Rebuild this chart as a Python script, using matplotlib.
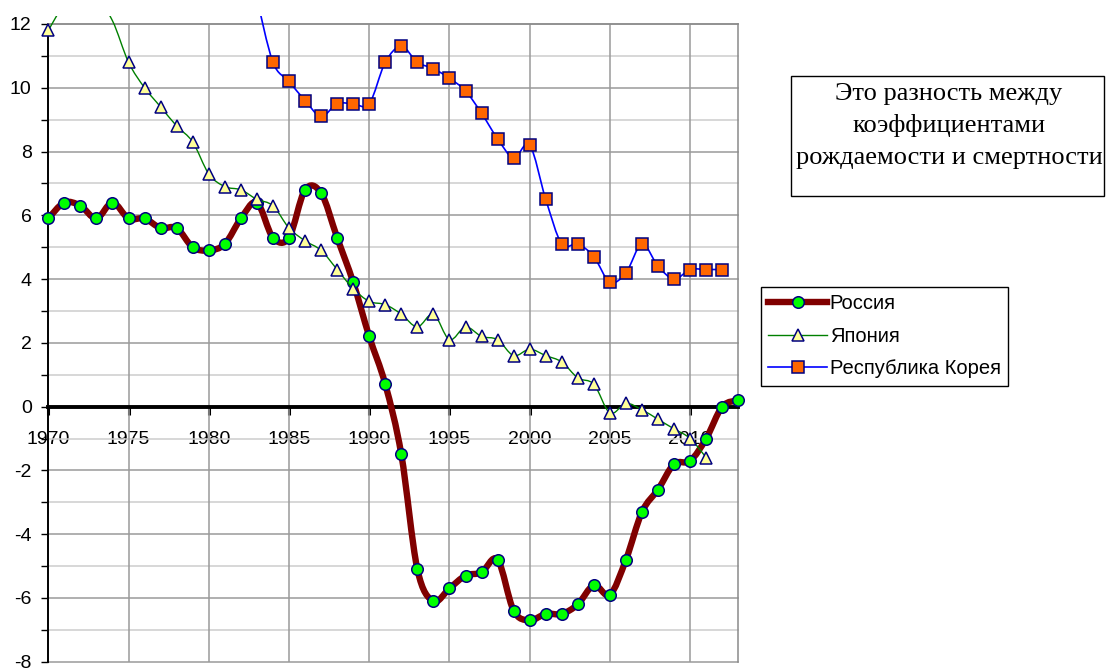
import numpy as np
import matplotlib
matplotlib.use("Agg")
import matplotlib.pyplot as plt
from matplotlib.path import Path
from matplotlib.patches import PathPatch, Rectangle
from matplotlib.lines import Line2D

plt.rcParams["font.family"] = ["Liberation Sans", "DejaVu Sans"]
plt.rcParams["axes.unicode_minus"] = False

# естественный прирост (рождаемость - смертность), на 1000 чел.
years_ru = np.arange(1970, 2014)
russia = np.array([5.9, 6.4, 6.3, 5.9, 6.4, 5.9, 5.9, 5.6, 5.6, 5.0,
                   4.9, 5.1, 5.9, 6.4, 5.3, 5.3, 6.8, 6.7, 5.3, 3.9,
                   2.2, 0.7, -1.5, -5.1, -6.1, -5.7, -5.3, -5.2, -4.8, -6.4,
                   -6.7, -6.5, -6.5, -6.2, -5.6, -5.9, -4.8, -3.3, -2.6, -1.8,
                   -1.7, -1.0, 0.0, 0.2])

years_jp = np.arange(1970, 2012)
japan = np.array([11.8, 12.6, 12.8, 12.8, 12.1, 10.8, 10.0, 9.4, 8.8, 8.3,
                  7.3, 6.9, 6.8, 6.5, 6.3, 5.6, 5.2, 4.9, 4.3, 3.7,
                  3.3, 3.2, 2.9, 2.5, 2.9, 2.1, 2.5, 2.2, 2.1, 1.6,
                  1.8, 1.6, 1.4, 0.9, 0.7, -0.2, 0.1, -0.1, -0.4, -0.7,
                  -1.0, -1.6])

years_kr = np.arange(1983, 2013)
korea = np.array([12.8, 10.8, 10.2, 9.6, 9.1, 9.5, 9.5, 9.5, 10.8, 11.3,
                  10.8, 10.6, 10.3, 9.9, 9.2, 8.4, 7.8, 8.2, 6.5, 5.1,
                  5.1, 4.7, 3.9, 4.2, 5.1, 4.4, 4.0, 4.3, 4.3, 4.3])

labels = ["Россия", "Япония", "Республика Корея"]
note = ["Это разность между", "коэффициентами", "рождаемости и смертности"]

W, H = 1106, 669
fig = plt.figure(figsize=(W / 100, H / 100), dpi=100)
ax = fig.add_axes([48.3 / W, 1 - 661.7 / H, 690 / W, 637.7 / H])

ax.spines["left"].set_color("black")
ax.spines["left"].set_linewidth(1.4)
ax.spines["bottom"].set_position(("data", 0))
ax.spines["bottom"].set_color("black")
ax.spines["bottom"].set_linewidth(2.8)
for s in ["top", "right"]:
    ax.spines[s].set_color("#8a8a8a")
    ax.spines[s].set_linewidth(1.1)

ax.set_xlim(1970, 2013)
ax.set_ylim(-8, 12)
ax.set_axisbelow(True)

ax.set_xticks(np.arange(1970, 2011, 5))
ax.set_yticks(np.arange(-8, 13, 2))
ax.set_yticks(np.arange(-8, 13, 1), minor=True)
ax.tick_params(axis="x", direction="out", length=5.5, width=2.2, pad=12,
               labelsize=14)
ax.tick_params(axis="y", which="both", direction="out", length=5, width=1,
               pad=7, labelsize=14)

# сетка поверх подписей осей, как в Excel
for yv in np.arange(-8, 13, 1):
    c = "#9a9a9a" if yv % 2 == 0 else "#cdcdcd"
    ax.axhline(yv, color=c, lw=1.1, zorder=1, clip_on=False)
for xv in ax.get_xticks()[1:]:
    ax.axvline(xv, color="#9a9a9a", lw=1.1, zorder=1)


def smooth(x, y):
    pts = np.column_stack([x, y])
    n = len(pts)
    verts = [pts[0]]
    codes = [Path.MOVETO]
    for i in range(n - 1):
        p0 = pts[i - 1] if i > 0 else pts[i]
        p1 = pts[i]
        p2 = pts[i + 1]
        p3 = pts[i + 2] if i + 2 < n else pts[i + 1]
        verts += [p1 + (p2 - p0) / 6, p2 - (p3 - p1) / 6, p2]
        codes += [Path.CURVE4] * 3
    return Path(verts, codes)


clip = Rectangle((0, 0), 1, 1 + 8 / 637.7, transform=ax.transAxes)

series = [
    (years_ru, russia, "#800000", 4.6, "o", "#00ff00", 8.3),
    (years_jp, japan, "#008000", 1.0, "^", "#ffff99", 8.8),
    (years_kr, korea, "#0000ff", 1.2, "s", "#ff6600", 8.4),
]
handles = []
z = 3
for (x, y, lc, lw, mk, mf, ms), lab in zip(series, labels):
    pp = PathPatch(smooth(x, y), facecolor="none", edgecolor=lc, lw=lw,
                   capstyle="round", joinstyle="round", zorder=z)
    ax.add_patch(pp)
    pp.set_clip_path(clip)
    m = (y <= 12) & (y >= -8)
    ax.plot(x[m], y[m], ls="none", marker=mk, mfc=mf, mec="#000080", mew=1.1,
            ms=ms, zorder=z + 0.5, clip_on=False)
    handles.append(Line2D([], [], color=lc, lw=lw, marker=mk, mfc=mf,
                          mec="#000080", mew=1.1, ms=ms))
    z += 1

leg = fig.legend(handles, labels, loc="upper left",
                 bbox_to_anchor=(760.7 / W, 1 - 286.7 / H),
                 bbox_transform=fig.transFigure, borderaxespad=0,
                 prop={"family": "Liberation Sans", "size": 14.5},
                 handlelength=2.9, handletextpad=0.15, borderpad=0.38,
                 labelspacing=0.66, fancybox=False, framealpha=1,
                 edgecolor="black")
leg.get_frame().set_linewidth(1.0)

# рамка с пояснением
fig.patches.append(Rectangle((790.7 / W, 1 - 196 / H), (1104 - 790.7) / W,
                             (196 - 75.7) / H, transform=fig.transFigure,
                             facecolor="white", edgecolor="black", lw=1.0))
for i, line in enumerate(note):
    fig.text(949 / W, 1 - (100 + 31.8 * i) / H, line, ha="center",
             va="baseline", family="Liberation Serif", fontsize=19)

fig.savefig("out.png", dpi=100)
